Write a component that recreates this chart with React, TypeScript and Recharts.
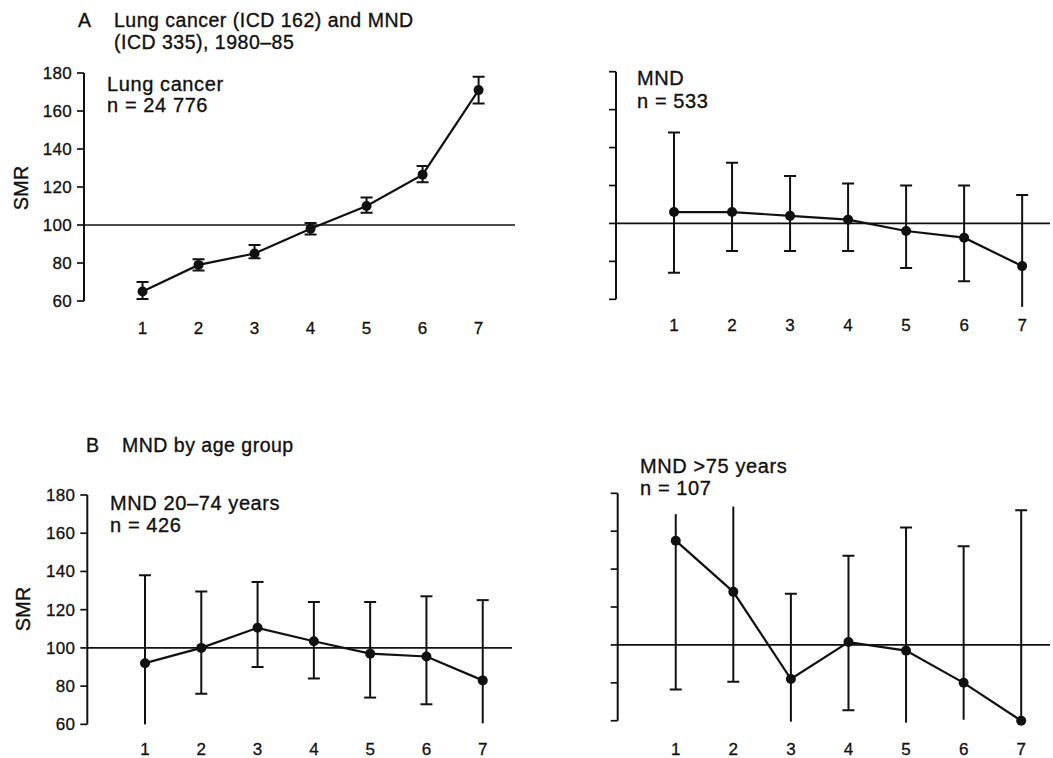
import React from 'react';
import { LineChart, Line, XAxis, YAxis, ReferenceLine, ErrorBar } from 'recharts';

// ---------- data ----------
const categories = [1, 2, 3, 4, 5, 6, 7];
const yTicks = [60, 80, 100, 120, 140, 160, 180];

// A: Lung cancer
const lungValues = [65, 79, 85, 98, 110, 126.5, 171];
const lungLow = [61, 76, 82.5, 95, 106.5, 122.5, 164];
const lungHigh = [70, 82, 89.5, 101, 114.5, 131, 178];
const lungLowCap = [true, true, true, true, true, true, true];
const lungHighCap = [true, true, true, true, true, true, true];

// A: MND
const mndValues = [106, 106, 104, 102, 96, 92.5, 77.5];
const mndLow = [74, 85.5, 85.5, 85.5, 76.5, 69.5, 56];
const mndHigh = [148, 132, 125, 121, 120, 120, 115];
const mndLowCap = [true, true, true, true, true, true, false];
const mndHighCap = [true, true, true, true, true, true, true];

// B: MND 20-74 years
const youngValues = [92, 100, 110.5, 103.5, 97, 95.5, 83];
const youngLow = [60, 76, 90, 84, 74, 70.5, 60.5];
const youngHigh = [138, 129.5, 134.5, 124, 124, 127, 125];
const youngLowCap = [false, true, true, true, true, true, false];
const youngHighCap = [true, true, true, true, true, true, true];

// B: MND >75 years
const oldValues = [155, 128, 82, 101.5, 97, 80, 60];
const oldLow = [76.5, 80.5, 59.5, 65.5, 59, 60.5, 60];
const oldHigh = [169, 173, 127, 147, 162, 152, 171];
const oldLowCap = [true, true, false, true, false, false, false];
const oldHighCap = [false, false, true, true, true, true, true];

// ---------- helpers ----------
const FONT = '"Liberation Sans", Arial, sans-serif';
const INK = '#111';
const W = 1053;
const H = 758;

function buildRows(values: number[], low: number[], high: number[], lowCap: boolean[], highCap: boolean[]) {
  return categories.map((x, i) => ({
    x,
    value: values[i],
    err: [values[i] - low[i], high[i] - values[i]],
    capHi: highCap[i] ? high[i] : null,
    capLo: lowCap[i] ? low[i] : null,
  }));
}

const makeCap = (w: number, sw: number) => (props: any) => {
  const { cx, cy, index } = props;
  if (cx == null || cy == null || Number.isNaN(cx) || Number.isNaN(cy)) {
    return <g key={`c-${index}`} />;
  }
  return (
    <line
      key={`c-${index}`}
      x1={cx - w / 2}
      x2={cx + w / 2}
      y1={cy}
      y2={cy}
      stroke={INK}
      strokeWidth={sw}
    />
  );
};

const EmptyTick = () => <g />;

type PanelProps = {
  rows: any[];
  axisX: number;
  yTop: number;
  plotBottom: number;
  plotRight: number;
  xDomain: [number, number];
  xTickMargin: number;
  showYLabels: boolean;
  whisker: number;
};

const Y_AXIS_W = 60;
const X_AXIS_H = 30;
const tickFont = { fill: INK, fontSize: 17, fontFamily: FONT, stroke: INK, strokeWidth: 0.3 };

function Panel(p: PanelProps) {
  const margin = {
    top: p.yTop,
    left: p.axisX - Y_AXIS_W,
    right: W - p.plotRight,
    bottom: H - p.plotBottom - X_AXIS_H,
  };
  const cap = makeCap(12, p.whisker);
  return (
    <div style={{ position: 'absolute', left: 0, top: 0, width: W, height: H }}>
      <LineChart width={W} height={H} data={p.rows} margin={margin}>
        <XAxis
          dataKey="x"
          type="number"
          domain={p.xDomain}
          allowDataOverflow
          ticks={categories}
          axisLine={false}
          tickLine={false}
          tickSize={0}
          tickMargin={p.xTickMargin}
          height={X_AXIS_H}
          tick={tickFont}
        />
        <YAxis
          type="number"
          domain={[55, 180]}
          allowDataOverflow
          ticks={yTicks}
          width={Y_AXIS_W}
          axisLine={false}
          tickLine={{ stroke: INK, strokeWidth: 1.7 }}
          tickSize={7}
          tickMargin={5}
          tick={p.showYLabels ? { ...tickFont, letterSpacing: 0.3 } : EmptyTick}
        />
        <ReferenceLine
          segment={[
            { x: p.xDomain[0], y: 60 },
            { x: p.xDomain[0], y: 180 },
          ]}
          stroke={INK}
          strokeWidth={2}
          ifOverflow="visible"
        />
        <ReferenceLine y={100} stroke={INK} strokeWidth={1.7} ifOverflow="visible" />
        <Line
          dataKey="capHi"
          stroke="none"
          dot={cap}
          activeDot={false}
          isAnimationActive={false}
          legendType="none"
        />
        <Line
          dataKey="capLo"
          stroke="none"
          dot={cap}
          activeDot={false}
          isAnimationActive={false}
          legendType="none"
        />
        <Line
          dataKey="value"
          type="linear"
          stroke={INK}
          strokeWidth={2.2}
          dot={{ r: 5, fill: INK, stroke: INK, strokeWidth: 0 }}
          activeDot={false}
          isAnimationActive={false}
        >
          <ErrorBar dataKey="err" width={0} stroke={INK} strokeWidth={p.whisker} direction="y" />
        </Line>
      </LineChart>
    </div>
  );
}

const lungRows = buildRows(lungValues, lungLow, lungHigh, lungLowCap, lungHighCap);
const mndRows = buildRows(mndValues, mndLow, mndHigh, mndLowCap, mndHighCap);
const youngRows = buildRows(youngValues, youngLow, youngHigh, youngLowCap, youngHighCap);
const oldRows = buildRows(oldValues, oldLow, oldHigh, oldLowCap, oldHighCap);

const labelStyle = { fontFamily: FONT, fontSize: 20, letterSpacing: 0.6, fill: INK, stroke: INK, strokeWidth: 0.35 } as const;
const titleStyle = { fontFamily: FONT, fontSize: 19.5, letterSpacing: 0.5, fill: INK, stroke: INK, strokeWidth: 0.35 } as const;
const smrStyle = { fontFamily: FONT, fontSize: 20, fill: INK, stroke: INK, strokeWidth: 0.35 } as const;

export default function App() {
  return (
    <div style={{ position: 'absolute', left: 0, top: 0, width: W, height: H, background: '#fff', overflow: 'hidden' }}>
      <Panel rows={lungRows} axisX={84} yTop={73} plotBottom={310.5} plotRight={515}
        xDomain={[-0.045, 7.65]} xTickMargin={11} showYLabels whisker={2} />
      <Panel rows={mndRows} axisX={616} yTop={71.7} plotBottom={308.8} plotRight={1050}
        xDomain={[0, 7.48]} xTickMargin={10.6} showYLabels={false} whisker={2} />
      <Panel rows={youngRows} axisX={87.3} yTop={495} plotBottom={733.9} plotRight={512}
        xDomain={[-0.025, 7.52]} xTickMargin={9.5} showYLabels whisker={2} />
      <Panel rows={oldRows} axisX={617.7} yTop={493.3} plotBottom={730.2} plotRight={1050}
        xDomain={[-0.008, 7.5]} xTickMargin={12.7} showYLabels={false} whisker={2} />
      <svg width={W} height={H} style={{ position: 'absolute', left: 0, top: 0, pointerEvents: 'none' }}>
        <text x={78} y={27} style={titleStyle}>A</text>
        <text x={114} y={27} style={titleStyle}>Lung cancer (ICD 162) and MND</text>
        <text x={114} y={48.5} style={titleStyle}>(ICD 335), 1980–85</text>
        <text x={86} y={452} style={titleStyle}>B</text>
        <text x={122} y={452} style={titleStyle}>MND by age group</text>

        <text x={107} y={91} style={labelStyle}>Lung cancer</text>
        <text x={107} y={112} style={labelStyle}>n = 24 776</text>
        <text x={637} y={85} style={labelStyle}>MND</text>
        <text x={637} y={108} style={labelStyle}>n = 533</text>
        <text x={110} y={510} style={labelStyle}>MND 20–74 years</text>
        <text x={110} y={531.5} style={labelStyle}>n = 426</text>
        <text x={640} y={473} style={labelStyle}>MND &gt;75 years</text>
        <text x={640} y={495} style={labelStyle}>n = 107</text>

        <text x={21} y={188} transform="rotate(-90 21 188)" textAnchor="middle" dominantBaseline="central"
          style={smrStyle}>SMR</text>
        <text x={23} y={609} transform="rotate(-90 23 609)" textAnchor="middle" dominantBaseline="central"
          style={smrStyle}>SMR</text>
      </svg>
    </div>
  );
}
